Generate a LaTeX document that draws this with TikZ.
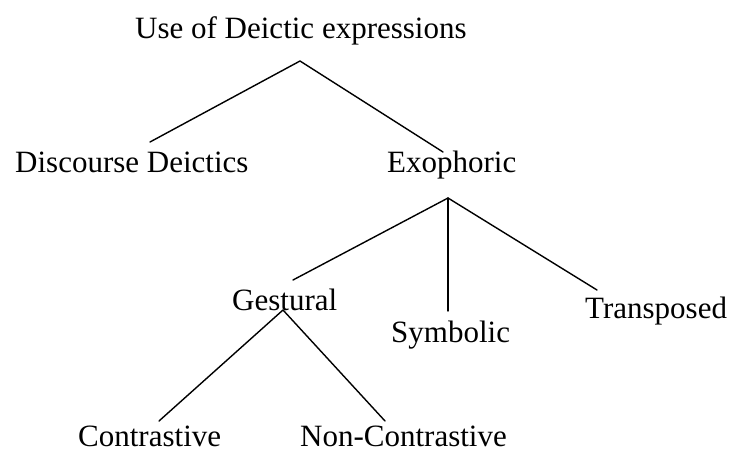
\documentclass[tikz,border=0pt]{standalone}
\usepackage{fontspec}
\setmainfont{Liberation Serif}
\begin{document}
\begin{tikzpicture}[x=1pt,y=-1pt,
  lbl/.style={anchor=base west,inner sep=0pt,font=\fontsize{31}{37}\selectfont},
  edge/.style={line width=1.4pt,line cap=round,line join=round}]
\useasboundingbox (0,0) rectangle (749,453);
\node[lbl] (root) at (135,38) {Use of Deictic expressions};
\node[lbl] (disc) at (15,172) {Discourse Deictics};
\node[lbl] (exo) at (387,172) {Exophoric};
\node[lbl] (ges) at (232,310) {Gestural};
\node[lbl] (sym) at (391,342) {Symbolic};
\node[lbl] (trans) at (585,318) {Transposed};
\node[lbl,text depth=0pt] (con) at (78,446) {Contrastive};
\node[lbl,text depth=0pt] (non) at (300,446) {Non-Contrastive};
\coordinate (a1) at (300,61);
\coordinate (d1) at (150,142);
\coordinate (e1) at (443,152);
\coordinate (a2) at (448,198);
\coordinate (g1) at (293,280);
\coordinate (s1) at (448,311);
\coordinate (t1) at (597,290);
\coordinate (a3) at (283,310);
\coordinate (c1) at (159,421);
\coordinate (n1) at (385,421);
\draw[edge] (d1) -- (a1) -- (e1);
\draw[edge] (g1) -- (a2) -- (t1);
\draw[edge] (a2) -- (s1);
\draw[edge] (c1) -- (a3) -- (n1);
\end{tikzpicture}
\end{document}
